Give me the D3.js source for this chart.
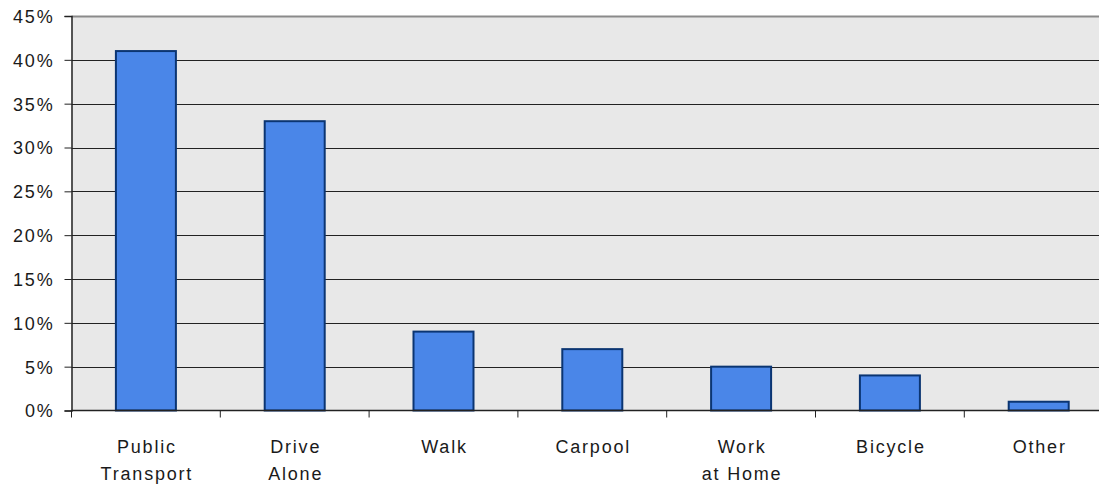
<!DOCTYPE html>
<html><head><meta charset="utf-8">
<script src="https://cdn.jsdelivr.net/npm/d3@7"></script>
<style>body{margin:0;background:#fff;} svg{display:block;}</style>
</head><body>
<svg id="c" width="1099" height="487"></svg>
<script>
const categories = [["Public","Transport"],["Drive","Alone"],["Walk"],["Carpool"],["Work","at Home"],["Bicycle"],["Other"]];
const values = [41, 33, 9, 7, 5, 4, 1];
const yTicks = [0,5,10,15,20,25,30,35,40,45];

(function(){
const svg = d3.select("#c");
const mLeft = 71.5, mTop = 16, mBottom = 410.5, catW = 148.8;
const mRight = mLeft + catW * categories.length;
const keys = categories.map(c => c.join(" "));
const x = d3.scaleBand().domain(keys).range([mLeft, mRight]).paddingInner(0).paddingOuter(0);
const y = d3.scaleLinear().domain([0,45]).range([mBottom, mTop]);
const FONT = "Liberation Sans, Arial, sans-serif", FS = 18, LS = "1.8px";

svg.append("rect").attr("x", mLeft).attr("y", mTop).attr("width", mRight-mLeft).attr("height", mBottom-mTop).attr("fill", "#e8e8e8");

// gridlines
svg.append("g").selectAll("line").data(yTicks.filter(d => d>0 && d<45)).join("line")
  .attr("x1", mLeft).attr("x2", mRight).attr("y1", d => Math.round(y(d))+0.5).attr("y2", d => Math.round(y(d))+0.5)
  .attr("stroke", "#222").attr("stroke-width", 1);
// top border
svg.append("line").attr("x1", mLeft).attr("x2", mRight).attr("y1", mTop+0.5).attr("y2", mTop+0.5).attr("stroke", "#8a8a8a").attr("stroke-width", 2);

// bars
const bw = 60;
svg.append("g").selectAll("rect").data(values).join("rect")
  .attr("x", (d,i) => x(keys[i]) + x.bandwidth()/2 - bw/2)
  .attr("y", d => y(d))
  .attr("width", bw)
  .attr("height", d => mBottom - y(d))
  .attr("fill", "#4a86e8").attr("stroke", "#0b3572").attr("stroke-width", 2);

// y axis
const yAxis = d3.axisLeft(y).tickValues(yTicks).tickFormat(d => d + "%").tickSize(7).tickPadding(10);
const gy = svg.append("g").attr("transform", `translate(${mLeft},0)`).call(yAxis);
gy.select(".domain").attr("stroke", "#222").attr("stroke-width", 1.5);
gy.selectAll(".tick line").attr("stroke", "#222");
gy.selectAll("text").attr("font-family", FONT).attr("font-size", FS).attr("letter-spacing", LS).attr("dy", "0.36em").attr("fill", "#1a1a1a");

// x axis
const boundaries = d3.range(categories.length + 1).map(i => mLeft + i*catW);
const gx = svg.append("g");
gx.append("line").attr("x1", mLeft).attr("x2", mRight).attr("y1", mBottom).attr("y2", mBottom).attr("stroke", "#222").attr("stroke-width", 1.5);
gx.selectAll("line.t").data(boundaries).join("line").attr("class","t")
  .attr("x1", d => d).attr("x2", d => d).attr("y1", mBottom).attr("y2", mBottom+7).attr("stroke", "#222");
const lab = gx.selectAll("text").data(categories).join("text")
  .attr("x", (d,i) => x(keys[i]) + x.bandwidth()/2 + 1)
  .attr("text-anchor", "middle")
  .attr("font-family", FONT).attr("font-size", FS).attr("letter-spacing", LS).attr("fill", "#1a1a1a");
lab.each(function(d){
  const t = d3.select(this);
  d.forEach((s,j) => t.append("tspan").attr("x", t.attr("x")).attr("y", 453 + j*27).text(s));
});
})();
</script>
</body></html>
